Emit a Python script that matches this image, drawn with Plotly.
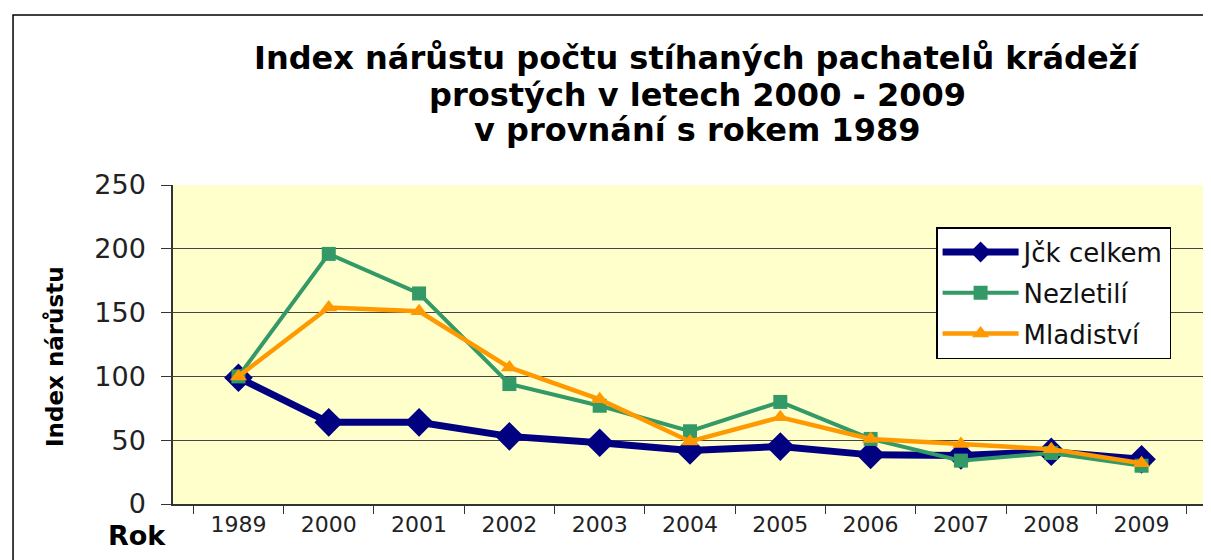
import plotly.graph_objects as go

# data
years = ["1989", "2000", "2001", "2002", "2003", "2004", "2005", "2006", "2007", "2008", "2009"]
jck_celkem = [99, 64, 64, 53, 48, 42, 45, 38.5, 38, 41, 35]
nezletili = [100, 196, 165, 94, 77, 57, 80, 51, 34, 40, 30]
mladistvi = [100, 154, 151, 107, 82, 49, 68, 51, 47, 43, 32]

title_lines = [
    "Index nárůstu počtu stíhaných pachatelů krádeží",
    "prostých v letech 2000 - 2009",
    "v provnání s rokem 1989",
]

FONT = "DejaVu Sans, Liberation Sans, Arial, sans-serif"

fig = go.Figure()
fig.add_trace(go.Scatter(
    x=years, y=jck_celkem, name="Jčk celkem", mode="lines+markers", legendgroup="a",
    line=dict(color="#000080", width=7),
    marker=dict(symbol="diamond", size=22, color="#000080")))
fig.add_trace(go.Scatter(
    x=years, y=nezletili, name="Nezletilí", mode="lines+markers", legendgroup="b",
    line=dict(color="#339966", width=4),
    marker=dict(symbol="square", size=14, color="#339966")))
fig.add_trace(go.Scatter(
    x=years, y=mladistvi, name="Mladiství", mode="lines+markers", legendgroup="c",
    line=dict(color="#FF9900", width=4.5),
    marker=dict(symbol="triangle-up", size=15, color="#FF9900")))

fig.update_xaxes(
    type="category", tickson="boundaries", ticks="outside", ticklen=8,
    tickcolor="#333", showline=True, linecolor="#333", linewidth=1.5,
    showgrid=False, automargin=False,
    tickfont=dict(family=FONT, size=22, color="#222"))
fig.update_yaxes(
    range=[0, 250], dtick=50, ticks="outside", ticklen=10, tickcolor="#333",
    showline=True, linecolor="#333", linewidth=1.5, automargin=False,
    showgrid=True, gridcolor="#444", gridwidth=1.2, zeroline=False,
    ticklabelstandoff=10,
    tickfont=dict(family=FONT, size=27, color="#222"))

# page body adds 8px offset, margins compensate for it
fig.update_layout(
    width=1211, height=560,
    margin=dict(l=165, r=12, t=177, b=64),
    paper_bgcolor="white", plot_bgcolor="#FFFFCC",
    font=dict(family=FONT),
    legend=dict(
        x=0.738, y=0.868, xanchor="left", yanchor="top",
        bgcolor="white", bordercolor="#000", borderwidth=1.5,
        font=dict(family=FONT, size=26, color="#111"),
        traceorder="grouped", tracegroupgap=4, itemwidth=76),
    showlegend=True,
)

# title as three centred lines
for line, ypos in zip(title_lines, [1.398, 1.283, 1.172]):
    fig.add_annotation(
        text="<b>" + line + "</b>", xref="paper", yref="paper", x=0.507, y=ypos,
        xanchor="center", yanchor="middle", showarrow=False,
        font=dict(family=FONT, size=32, color="#000"))

# y axis title
fig.add_annotation(
    text="<b>Index nárůstu</b>", xref="paper", yref="paper", x=-0.1141, y=0.461,
    xanchor="center", yanchor="middle", textangle=-90, showarrow=False,
    font=dict(family=FONT, size=23, color="#000"))

# "Rok" label below the y axis
fig.add_annotation(
    text="<b>Rok</b>", xref="paper", yref="paper", x=-0.0348, y=-0.098,
    xanchor="center", yanchor="middle", showarrow=False,
    font=dict(family=FONT, size=27, color="#000"))

# outer chart border (Excel style frame)
fig.add_shape(
    type="rect", xref="paper", yref="paper",
    x0=-0.1547, x1=1.05, y0=-0.5, y1=1.533,
    line=dict(color="#000", width=1.5), fillcolor="rgba(0,0,0,0)", layer="below")

fig.write_html("out.html")
